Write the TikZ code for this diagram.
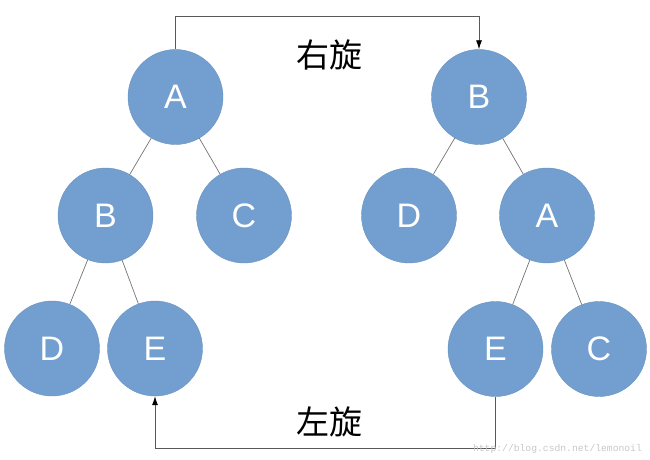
\documentclass[tikz,border=0pt]{standalone}
\usepackage{fontspec}
\setmainfont{Liberation Sans}
\newfontfamily\cjk{Noto Sans CJK SC}
\newfontfamily\markfont{Liberation Mono}
\usetikzlibrary{positioning,arrows.meta}
\definecolor{nodeblue}{HTML}{729FCF}

\begin{document}
\begin{tikzpicture}[x=1pt,y=-1pt,on grid,
	tree/.style={circle,fill=nodeblue,draw=nodeblue!92!black,line width=0.4pt,minimum size=95pt,inner sep=0pt,text=white,font=\fontsize{34}{34}\selectfont},
	link/.style={draw=black!55,line width=0.7pt},
	turn/.style={draw=black!65,line width=0.8pt,-{Latex[length=9pt,width=6pt,black]}}]
	\useasboundingbox (0,0) rectangle (650,460);

	% left tree
	\node[tree] (A_l) at (175.5,97) {A};
	\node[tree] (B_l) [below left=118.5pt and 70pt of A_l] {B};
	\node[tree] (C_l) [below right=118.5pt and 68.5pt of A_l] {C};
	\node[tree] (D_l) [below left=133pt and 53.5pt of B_l] {D};
	\node[tree] (E_l) [below right=133pt and 49.5pt of B_l] {E};

	% right tree
	\node[tree] (B_r) at (479,97) {B};
	\node[tree] (D_r) [below left=118.5pt and 70pt of B_r] {D};
	\node[tree] (A_r) [below right=118.5pt and 68pt of B_r] {A};
	\node[tree] (E_r) [below left=133.5pt and 51.5pt of A_r] {E};
	\node[tree] (C_r) [below right=133.5pt and 52pt of A_r] {C};

	\path[link]
	(A_l) edge (B_l)
	      edge (C_l)
	(B_l) edge (D_l)
	      edge (E_l)

	(B_r) edge (D_r)
	      edge (A_r)
	(A_r) edge (E_r)
	      edge (C_r);

	% rotations
	\coordinate (top) at (0,16);
	\coordinate (bot) at (0,448);
	\draw[turn] (A_l.north) |- (B_r.north |- top) -- (B_r.north);
	\draw[turn] (E_r.south) |- (E_l.south |- bot) -- (E_l.south);

	\node (right_rot) at (329,55) {\cjk\fontsize{33}{33}\selectfont 右旋};
	\node (left_rot) at (329,422) {\cjk\fontsize{33}{33}\selectfont 左旋};

	\node[text=black!22,font=\markfont\fontsize{9.7}{10}\selectfont] (mark) at (557.5,449) {http://blog.csdn.net/lemonoil};
\end{tikzpicture}
\end{document}
